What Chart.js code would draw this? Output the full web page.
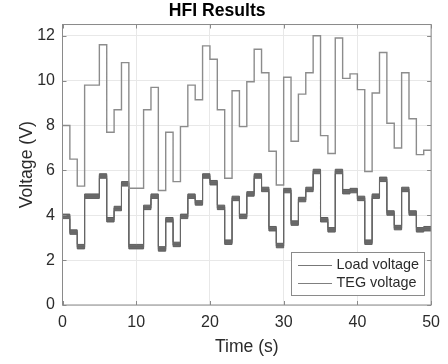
<!DOCTYPE html>
<html>
<head>
<meta charset="utf-8">
<script src="https://cdn.jsdelivr.net/npm/chart.js@4/dist/chart.umd.min.js"></script>
<style>
  html, body { margin: 0; padding: 0; background: #ffffff; }
  #c { display: block; }
</style>
</head>
<body>
<canvas id="c" width="448" height="364"></canvas>
<script>
// ---- data ----
const chartTitle = 'HFI Results';
const xAxisTitle = 'Time (s)';
const yAxisTitle = 'Voltage (V)';
const seriesNames = ['Load voltage', 'TEG voltage'];
const xTickValues = [0, 10, 20, 30, 40, 50];
const yTickValues = [0, 2, 4, 6, 8, 10, 12];
// start time of each step (s); final entry is the end of the record
const stepTimes = [0,1,2,3,4,5,6,7,8,9,10,11,12,13,14,15,16,17,18,19,20,21,22,23,24,25,26,27,28,29,30,31,32,33,34,35,36,37,38,39,40,41,42,43,44,45,46,47,48,49,50];
// TEG voltage level held during each step (V)
const tegVoltage = [8.0,6.5,5.3,9.8,9.8,11.6,7.7,8.7,10.8,5.2,5.2,8.7,9.7,5.1,7.7,5.5,7.95,9.8,9.15,11.55,10.95,8.7,5.65,9.55,7.95,9.95,11.4,10.35,6.85,5.35,10.15,7.3,9.4,10.35,12.0,7.55,6.75,11.9,10.1,10.3,9.6,5.95,9.45,11.25,8.1,7.0,10.35,8.3,6.7,6.9];
// Load voltage level held during each step (V)
const loadVoltage = [3.95,3.25,2.6,4.85,4.85,5.75,3.8,4.3,5.4,2.6,2.6,4.35,4.85,2.5,3.8,2.7,3.95,4.85,4.55,5.75,5.45,4.35,2.8,4.75,3.95,4.95,5.75,5.15,3.4,2.65,5.1,3.65,4.7,5.15,5.95,3.8,3.35,5.95,5.05,5.1,4.75,2.8,4.85,5.6,4.1,3.45,5.15,4.1,3.35,3.4];
// half-height of the high-frequency ripple band on the load voltage (V)
const loadRipple = 0.1;

// ---- build step points for the library ----
function stepPoints(levels, offset) {
  const pts = levels.map((v, i) => ({ x: stepTimes[i], y: v + offset }));
  pts.push({ x: stepTimes[levels.length], y: levels[levels.length - 1] + offset });
  return pts;
}

const FONT = '"Liberation Sans", Arial, Helvetica, sans-serif';
const TEXT_COLOR = '#2b2b2b';
const AXIS_COLOR = '#8a8a8a';
const GRID_COLOR = '#e8e8e8';
const LOAD_COLOR = '#666666';
const TEG_COLOR = '#8c8c8c';

const framePlugin = {
  id: 'frame',
  afterDatasetsDraw(chart) {
    const { ctx, chartArea: a, scales: { x, y } } = chart;
    ctx.save();
    ctx.strokeStyle = AXIS_COLOR;
    ctx.lineWidth = 1;
    ctx.strokeRect(a.left, a.top, a.right - a.left, a.bottom - a.top);
    const tl = 4;
    ctx.beginPath();
    xTickValues.forEach(v => {
      const px = Math.round(x.getPixelForValue(v)) + 0.5;
      ctx.moveTo(px, a.bottom); ctx.lineTo(px, a.bottom - tl);
      ctx.moveTo(px, a.top); ctx.lineTo(px, a.top + tl);
    });
    yTickValues.forEach(v => {
      const py = Math.round(y.getPixelForValue(v)) + 0.5;
      ctx.moveTo(a.left, py); ctx.lineTo(a.left + tl, py);
      ctx.moveTo(a.right, py); ctx.lineTo(a.right - tl, py);
    });
    ctx.stroke();
    ctx.restore();
  },
  afterDraw(chart) {
    const { ctx } = chart;
    const bx = 291.5, by = 252.5, bw = 133, bh = 43;
    ctx.save();
    ctx.fillStyle = '#ffffff';
    ctx.fillRect(bx, by, bw, bh);
    ctx.strokeStyle = AXIS_COLOR;
    ctx.lineWidth = 1;
    ctx.strokeRect(bx, by, bw, bh);
    const entries = chart.data.datasets.filter(d => d.label && !d.hideInLegend);
    entries.forEach((d, i) => {
      const yy = 265.5 + i * 18;
      ctx.strokeStyle = d.legendColor || d.borderColor;
      ctx.lineWidth = 1;
      ctx.beginPath();
      ctx.moveTo(298, yy); ctx.lineTo(332, yy);
      ctx.stroke();
      ctx.fillStyle = TEXT_COLOR;
      ctx.font = '14.4px ' + FONT;
      ctx.textAlign = 'left';
      ctx.textBaseline = 'middle';
      ctx.fillText(d.label, 336.5, yy);
    });
    ctx.restore();
  }
};

new Chart(document.getElementById('c'), {
  type: 'line',
  data: {
    datasets: [
      {
        label: '', hideInLegend: true,
        data: stepPoints(loadVoltage, loadRipple),
        stepped: true, borderColor: '#5e5e5e', borderWidth: 1,
        pointRadius: 0, fill: false, order: 3
      },
      {
        label: '', hideInLegend: true,
        data: stepPoints(loadVoltage, -loadRipple),
        stepped: true, borderColor: '#5e5e5e', borderWidth: 1,
        backgroundColor: '#6c6c6c',
        pointRadius: 0, fill: '-1', order: 3
      },
      {
        label: seriesNames[0],
        data: stepPoints(loadVoltage, 0),
        stepped: true, borderColor: LOAD_COLOR, legendColor: '#777777', borderWidth: 1.1,
        pointRadius: 0, fill: false, order: 2
      },
      {
        label: seriesNames[1],
        data: stepPoints(tegVoltage, 0),
        stepped: true, borderColor: TEG_COLOR, legendColor: '#7f7f7f', borderWidth: 1.4,
        pointRadius: 0, fill: false, order: 1
      }
    ]
  },
  options: {
    responsive: false,
    animation: false,
    devicePixelRatio: 1,
    layout: { padding: { left: 0, right: 13.5, top: 0, bottom: 0 } },
    plugins: {
      legend: { display: false },
      tooltip: { enabled: false },
      title: {
        display: true, text: chartTitle, color: '#000000',
        font: { family: FONT, size: 17.6, weight: 'bold', lineHeight: 1.2 },
        padding: { top: 1, bottom: 2.4 }
      }
    },
    scales: {
      x: {
        type: 'linear', min: 0, max: 50,
        afterFit(s) { s.height = 59; },
        afterBuildTicks(s) { s.ticks = xTickValues.map(v => ({ value: v })); },
        ticks: { font: { family: FONT, size: 16 }, color: TEXT_COLOR, padding: 8, maxRotation: 0 },
        grid: { color: GRID_COLOR, drawTicks: false },
        border: { display: false },
        title: { display: true, text: xAxisTitle, color: TEXT_COLOR,
                 font: { family: FONT, size: 17.6 }, padding: { top: 0, bottom: 6.4 } }
      },
      y: {
        type: 'linear', min: 0, max: 12.5,
        afterFit(s) { s.width = 62.5; },
        afterBuildTicks(s) { s.ticks = yTickValues.map(v => ({ value: v })); },
        ticks: { font: { family: FONT, size: 16 }, color: TEXT_COLOR, padding: 7.5 },
        grid: { color: GRID_COLOR, drawTicks: false },
        border: { display: false },
        title: { display: true, text: yAxisTitle, color: TEXT_COLOR,
                 font: { family: FONT, size: 17.6 }, padding: { top: 16.4, bottom: 0 } }
      }
    }
  },
  plugins: [framePlugin]
});
</script>
</body>
</html>
